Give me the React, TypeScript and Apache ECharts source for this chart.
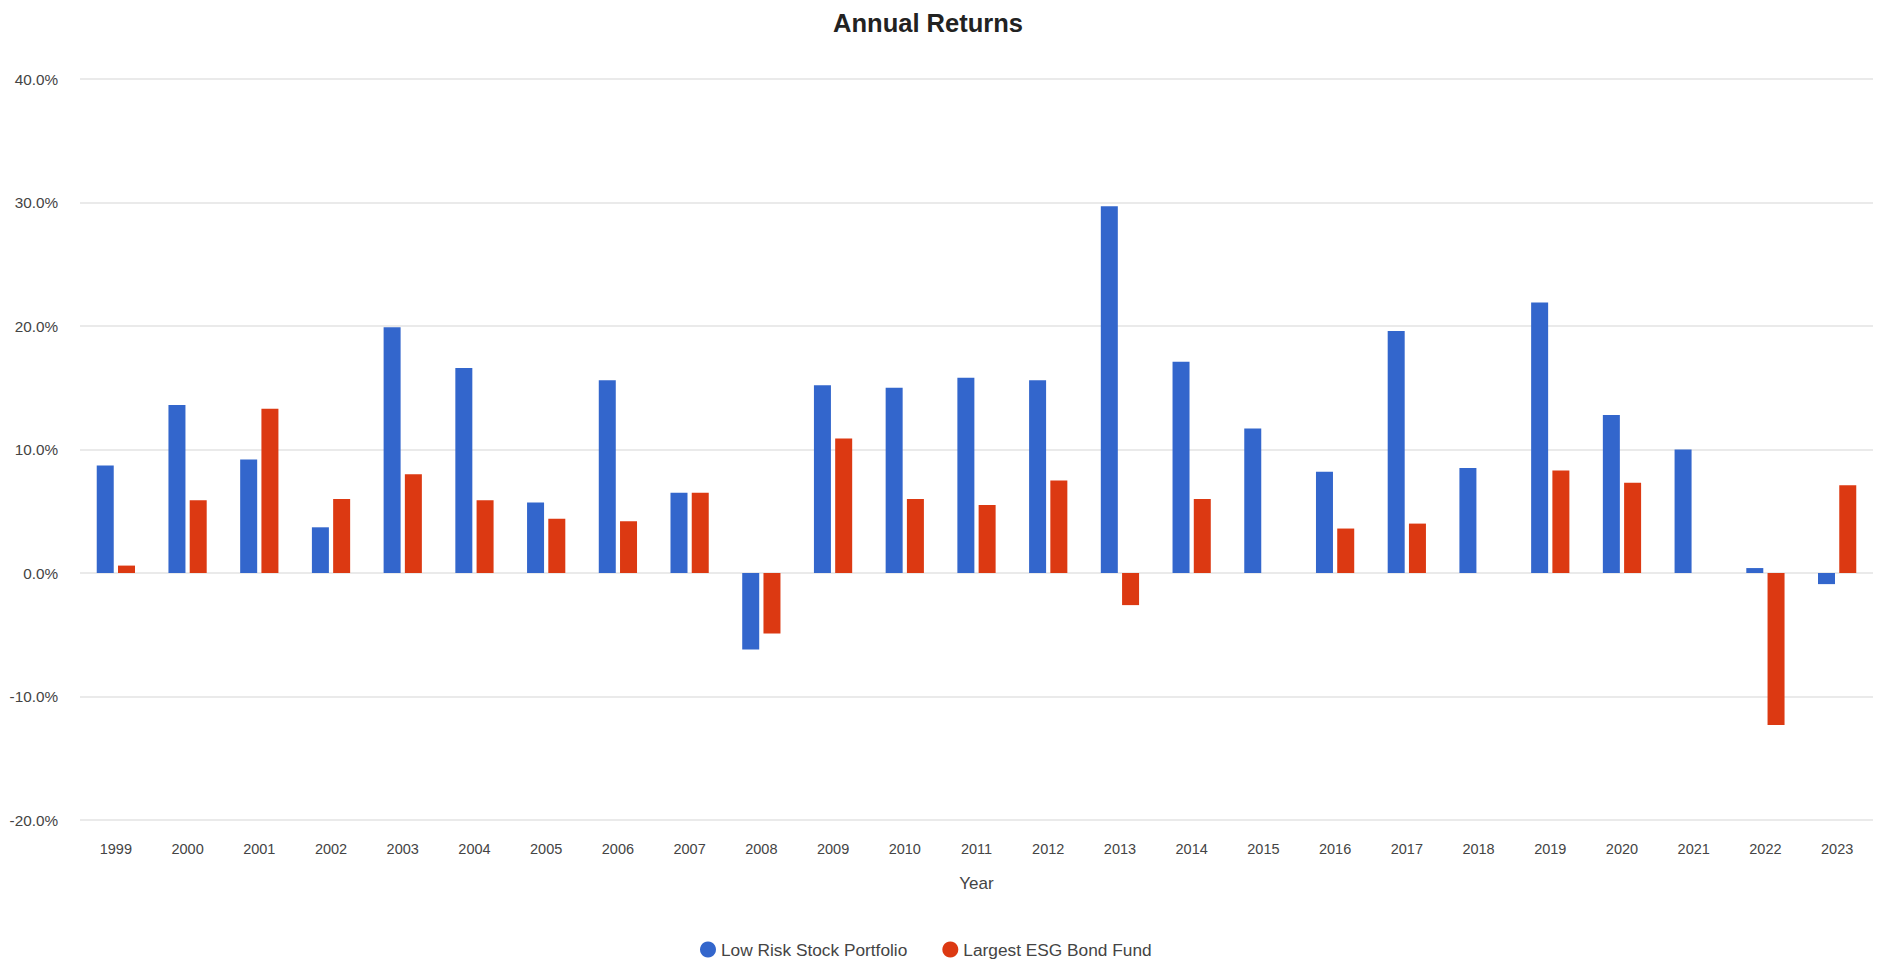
import React, { useEffect, useRef } from "react";
import * as echarts from "echarts";

const years = ["1999","2000","2001","2002","2003","2004","2005","2006","2007","2008","2009","2010","2011","2012","2013","2014","2015","2016","2017","2018","2019","2020","2021","2022","2023"];
const lowRiskStock = [8.7, 13.6, 9.2, 3.7, 19.9, 16.6, 5.7, 15.6, 6.5, -6.2, 15.2, 15.0, 15.8, 15.6, 29.7, 17.1, 11.7, 8.2, 19.6, 8.5, 21.9, 12.8, 10.0, 0.4, -0.9];
const esgBondFund: (number | null)[] = [0.6, 5.9, 13.3, 6.0, 8.0, 5.9, 4.4, 4.2, 6.5, -4.9, 10.9, 6.0, 5.5, 7.5, -2.6, 6.0, null, 3.6, 4.0, null, 8.3, 7.3, null, -12.3, 7.1];
const seriesNames = ["Low Risk Stock Portfolio", "Largest ESG Bond Fund"];
const titleText = "Annual Returns";
const xAxisName = "Year";

const FONT = "Arial, 'Liberation Sans', sans-serif";

export default function App() {
  const ref = useRef<HTMLDivElement>(null);
  useEffect(() => {
    document.body.style.margin = "0";
    const chart = echarts.init(ref.current!, null, { renderer: "svg" });
    chart.setOption({
      animation: false,
      backgroundColor: "#ffffff",
      textStyle: { fontFamily: FONT },
      title: {
        text: titleText,
        left: 923,
        textAlign: "center",
        top: 5,
        textStyle: { fontFamily: FONT, fontWeight: "bold", fontSize: 25.5, color: "#222222" },
      },
      legend: {
        data: seriesNames,
        left: 695,
        top: 936,
        icon: "circle",
        itemWidth: 16,
        itemHeight: 19,
        itemGap: 35,
        textStyle: { fontFamily: FONT, fontSize: 17.3, color: "#444444" },
      },
      grid: { left: 80, right: 10, top: 79, bottom: 146, containLabel: false },
      xAxis: {
        type: "category",
        data: years,
        name: xAxisName,
        nameLocation: "middle",
        nameGap: 55,
        nameTextStyle: { fontFamily: FONT, fontSize: 17, color: "#444444" },
        axisLine: { show: false },
        axisTick: { show: false },
        axisLabel: { margin: 21, fontFamily: FONT, fontSize: 14.5, color: "#444444", interval: 0 },
      },
      yAxis: {
        type: "value",
        min: -20,
        max: 40,
        interval: 10,
        axisLine: { show: false },
        axisTick: { show: false },
        axisLabel: {
          margin: 22,
          fontFamily: FONT,
          fontSize: 15.3,
          color: "#444444",
          formatter: (v: number) => v.toFixed(1) + "%",
        },
        splitLine: { lineStyle: { color: "#e3e3e3", width: 1.5 } },
      },
      series: [
        {
          name: seriesNames[0],
          type: "bar",
          data: lowRiskStock,
          barWidth: 17,
          barGap: "25%",
          itemStyle: { color: "#3366cc" },
        },
        {
          name: seriesNames[1],
          type: "bar",
          data: esgBondFund,
          barWidth: 17,
          barGap: "25%",
          itemStyle: { color: "#dc3912" },
        },
      ],
    });
    return () => chart.dispose();
  }, []);
  return <div ref={ref} style={{ width: 1883, height: 966 }} />;
}
